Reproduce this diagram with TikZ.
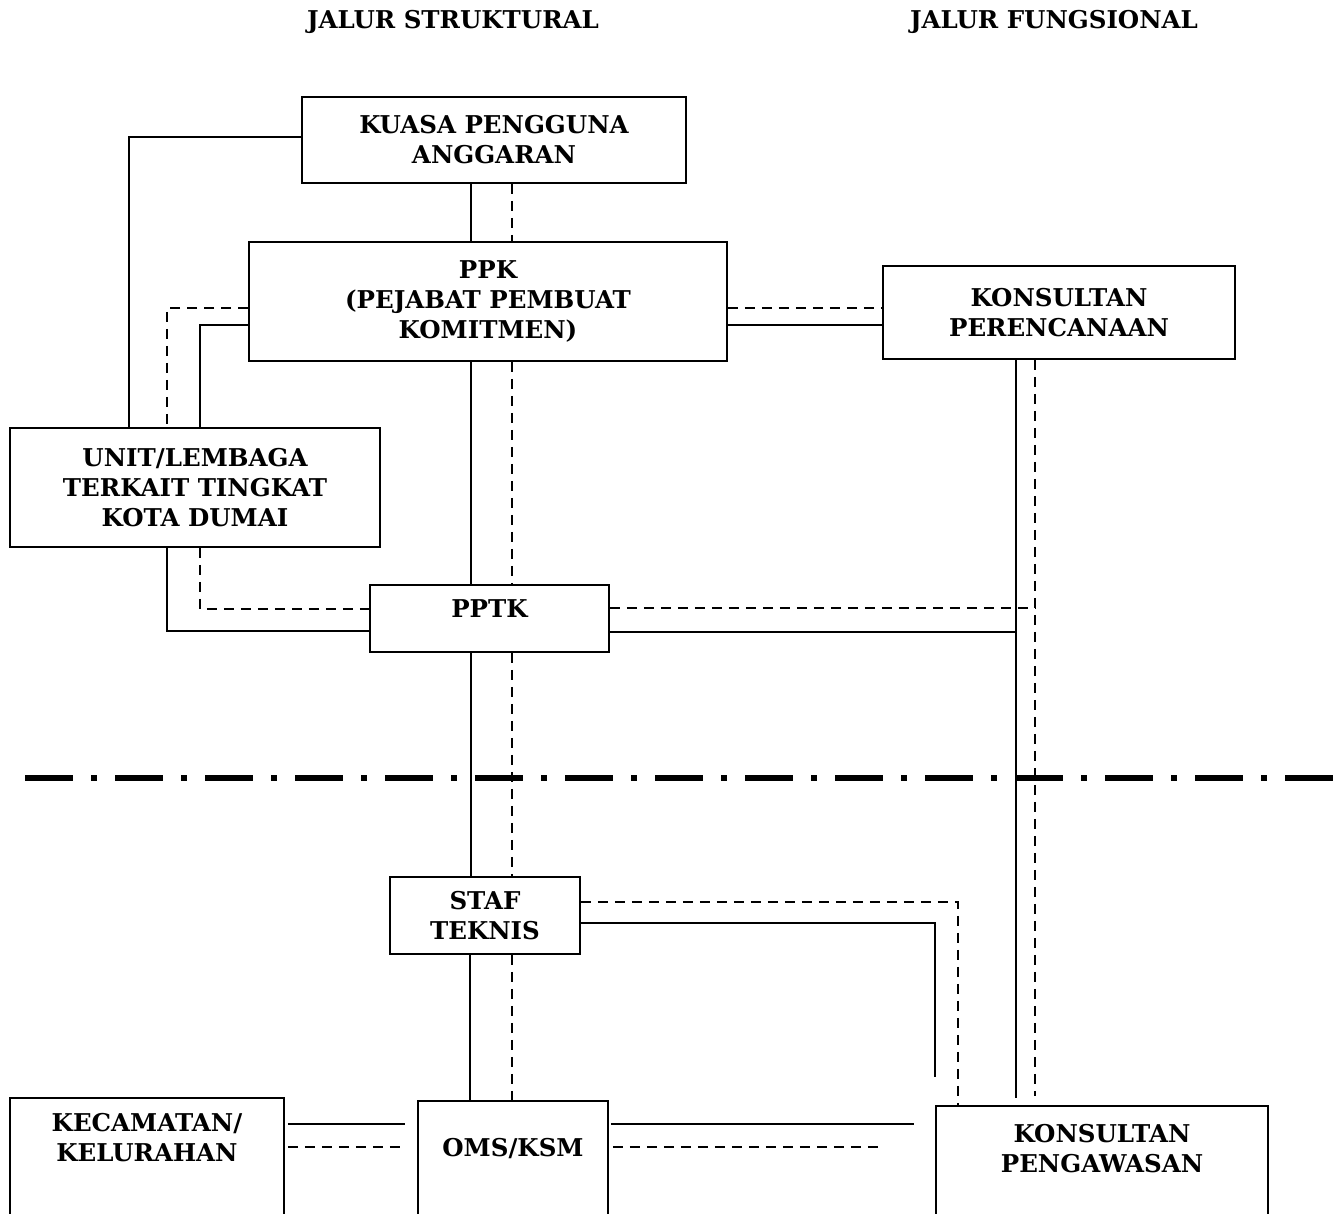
\documentclass[tikz,border=0pt]{standalone}
\usepackage{fontspec}
\setmainfont{DejaVu Serif}
\usetikzlibrary{positioning}

\begin{document}
\begin{tikzpicture}[
    x=1pt, y=-1pt,
    font={\bfseries\fontsize{24.5}{30}\selectfont},
    % Styles
    box/.style={rectangle, draw, line width=1.8pt, inner sep=0pt, align=center},
    openbox/.style={box, anchor=north, text depth=200pt},
    link/.style={line width=1.6pt},
    dlink/.style={line width=1.6pt, dash pattern=on 10pt off 7pt},
    border/.style={line width=6pt, dash pattern=on 48pt off 18pt on 6pt off 18pt}
  ]
  \useasboundingbox (0,0) rectangle (1336,1214);
  \clip (0,0) rectangle (1336,1214);
  % 1. Headings
  \node (hstr) at (453,22) {JALUR STRUKTURAL};
  \node (hfun) at (1054,22) {JALUR FUNGSIONAL};
  % 2. Boxes
  \node[box, minimum width=384pt, minimum height=86pt] (kpa) at (494,140) {KUASA PENGGUNA\\ANGGARAN};
  \node[box, minimum width=478pt, minimum height=119pt] (ppk) at (488,301.5) {PPK\\(PEJABAT PEMBUAT\\KOMITMEN)};
  \node[box, minimum width=352pt, minimum height=93pt] (kpr) at (1059,312.5) {KONSULTAN\\PERENCANAAN};
  \node[box, minimum width=370pt, minimum height=119pt] (unit) at (195,487.5) {UNIT/LEMBAGA\\TERKAIT TINGKAT\\KOTA DUMAI};
  \node[box, minimum width=239pt, minimum height=67pt, text depth=19pt] (pptk) at (489.5,618.5) {PPTK};
  \node[box, minimum width=190pt, minimum height=77pt] (staf) at (485,915.5) {STAF\\TEKNIS};
  \node[openbox, minimum width=274pt, inner ysep=15pt] (kec) at (147,1097) {KECAMATAN/\\KELURAHAN};
  \node[openbox, minimum width=190pt, inner ysep=37pt] (oms) at (513,1100) {OMS/KSM};
  \node[openbox, minimum width=332pt, inner ysep=18pt] (kpg) at (1102,1105) {KONSULTAN\\PENGAWASAN};
  % 3. Border between the two levels
  \draw[border] (25,778) -- (1336,778);
  % --- Connections ---
  \coordinate (sol) at (1016,0);
  \coordinate (das) at (1035,0);
  \coordinate (stafend) at (935,1077);
  \draw[link] (kpa.south -| 471,0) -- (ppk.north -| 471,0);
  \draw[dlink] (kpa.south -| 512,0) -- (ppk.north -| 512,0);
  \draw[link] (kpa.west |- 0,137) -| (unit.north -| 129,0);
  \draw[dlink] (ppk.west |- 0,308) -| (unit.north -| 167,0);
  \draw[link] (ppk.west |- 0,325) -| (unit.north -| 200,0);
  \draw[dlink] (ppk.east |- 0,308) -- (kpr.west |- 0,308);
  \draw[link] (ppk.east |- 0,325) -- (kpr.west |- 0,325);
  \draw[link] (ppk.south -| 471,0) -- (pptk.north -| 471,0);
  \draw[dlink] (ppk.south -| 512,0) -- (pptk.north -| 512,0);
  \draw[link, shorten >=7pt] (kpr.south -| sol) -- (kpg.north -| sol);
  \draw[dlink, shorten >=9pt] (kpr.south -| das) -- (kpg.north -| das);
  \draw[link] (unit.south -| 167,0) |- (pptk.west |- 0,631);
  \draw[dlink] (unit.south -| 200,0) |- (pptk.west |- 0,609);
  \draw[dlink] (pptk.east |- 0,608) -- (das |- 0,608);
  \draw[link] (pptk.east |- 0,632) -- (sol |- 0,632);
  \draw[link] (pptk.south -| 471,0) -- (staf.north -| 471,0);
  \draw[dlink] (pptk.south -| 512,0) -- (staf.north -| 512,0);
  \draw[dlink] (staf.east |- 0,902) -| (kpg.north -| 958,0);
  \draw[link] (staf.east |- 0,923) -| (stafend);
  \draw[link] (staf.south -| 470,0) -- (oms.north -| 470,0);
  \draw[dlink] (staf.south -| 512,0) -- (oms.north -| 512,0);
  \draw[link, shorten <=3pt, shorten >=12pt] (kec.east |- 0,1124) -- (oms.west |- 0,1124);
  \draw[dlink, shorten <=3pt, shorten >=13pt] (kec.east |- 0,1147) -- (oms.west |- 0,1147);
  \draw[link, shorten <=2pt, shorten >=21pt] (oms.east |- 0,1124) -- (kpg.west |- 0,1124);
  \draw[dlink, shorten <=4pt, shorten >=54pt] (oms.east |- 0,1147) -- (kpg.west |- 0,1147);
\end{tikzpicture}
\end{document}
